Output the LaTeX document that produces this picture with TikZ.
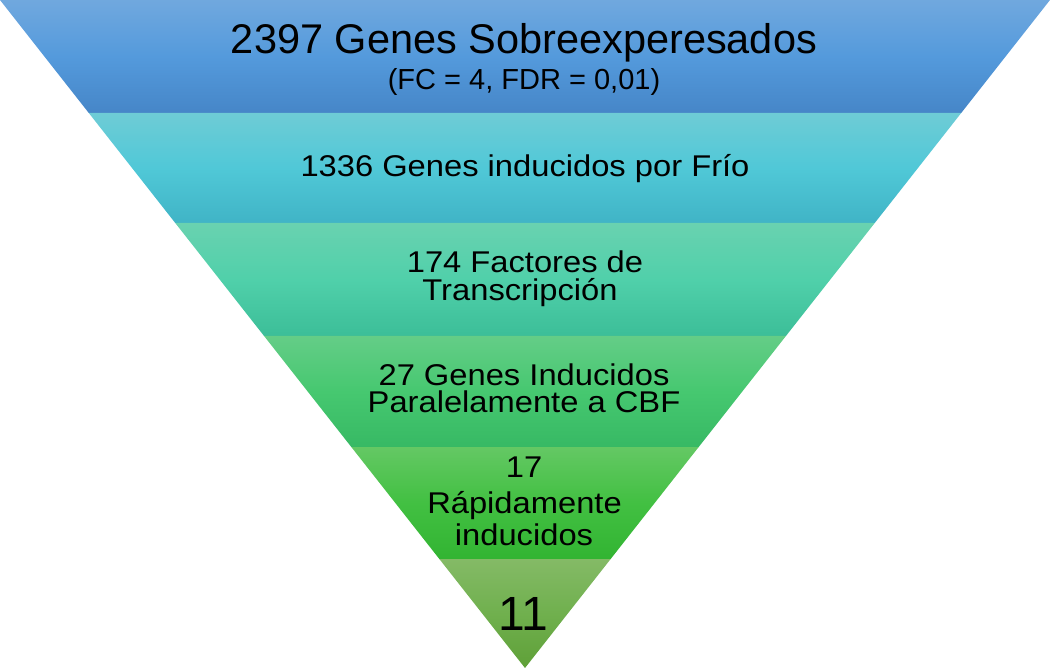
\documentclass[tikz,border=0pt]{standalone}
\usepackage{fontspec}
\setmainfont{Liberation Sans}
\newfontfamily\widesans{Liberation Sans}[FakeStretch=1.09]
\definecolor{b1t}{RGB}{112,168,222}
\definecolor{b1m}{RGB}{84,154,220}
\definecolor{b1b}{RGB}{70,134,200}
\definecolor{b2t}{RGB}{110,204,214}
\definecolor{b2m}{RGB}{80,200,215}
\definecolor{b2b}{RGB}{64,180,198}
\definecolor{b3t}{RGB}{105,210,176}
\definecolor{b3m}{RGB}{80,208,170}
\definecolor{b3b}{RGB}{60,190,152}
\definecolor{b4t}{RGB}{100,205,135}
\definecolor{b4m}{RGB}{70,200,112}
\definecolor{b4b}{RGB}{55,185,100}
\definecolor{b5t}{RGB}{100,200,100}
\definecolor{b5m}{RGB}{66,192,66}
\definecolor{b5b}{RGB}{50,180,50}
\definecolor{b6t}{RGB}{132,186,102}
\definecolor{b6m}{RGB}{112,176,78}
\definecolor{b6b}{RGB}{95,160,56}
\begin{document}
\begin{tikzpicture}[x=1pt,y=-1pt,
  lbl/.style={anchor=base, inner sep=0pt, text=black, font=\widesans\fontsize{30}{36}\selectfont},
  bigtitle/.style={lbl, font=\fontsize{41.5}{49}\selectfont},
  subtitle/.style={lbl, font=\fontsize{29}{34}\selectfont},
  huge/.style={lbl, font=\fontsize{48}{58}\selectfont}]
\useasboundingbox (0,0) rectangle (1050,668);
% bands
\path[shade, top color=b1t, bottom color=b1b, middle color=b1m]
  (0,0) -- (1050,0) -- (961.19,113) -- (88.81,113) -- cycle;
\path[shade, top color=b2t, bottom color=b2b, middle color=b2m]
  (88.81,113) -- (961.19,113) -- (874.74,223) -- (175.26,223) -- cycle;
\path[shade, top color=b3t, bottom color=b3b, middle color=b3m]
  (175.26,223) -- (874.74,223) -- (785.93,336) -- (264.07,336) -- cycle;
\path[shade, top color=b4t, bottom color=b4b, middle color=b4m]
  (264.07,336) -- (785.93,336) -- (698.69,447) -- (351.31,447) -- cycle;
\path[shade, top color=b5t, bottom color=b5b, middle color=b5m]
  (351.31,447) -- (698.69,447) -- (610.66,559) -- (439.34,559) -- cycle;
\path[shade, top color=b6t, bottom color=b6b, middle color=b6m]
  (439.34,559) -- (610.66,559) -- (525,668) -- cycle;
% labels
\node[bigtitle] (t1) at (524,54) {2397 Genes Sobreexperesados};
\node[subtitle] (t1s) at (524,90) {(FC = 4, FDR = 0,01)};
\node[lbl] (t2) at (525,177) {1336 Genes inducidos por Frío};
\node[lbl] (t3a) at (525,273) {174 Factores de};
\node[lbl] (t3b) at (520,301) {Transcripción};
\node[lbl] (t4a) at (524,385) {27 Genes Inducidos};
\node[lbl] (t4b) at (524,412) {Paralelamente a CBF};
\node[lbl] (t5a) at (524,477) {17};
\node[lbl] (t5b) at (524.5,513) {Rápidamente};
\node[lbl] (t5c) at (524,545) {inducidos};
\node[huge] (t6) at (523,630) {11};
\end{tikzpicture}
\end{document}
